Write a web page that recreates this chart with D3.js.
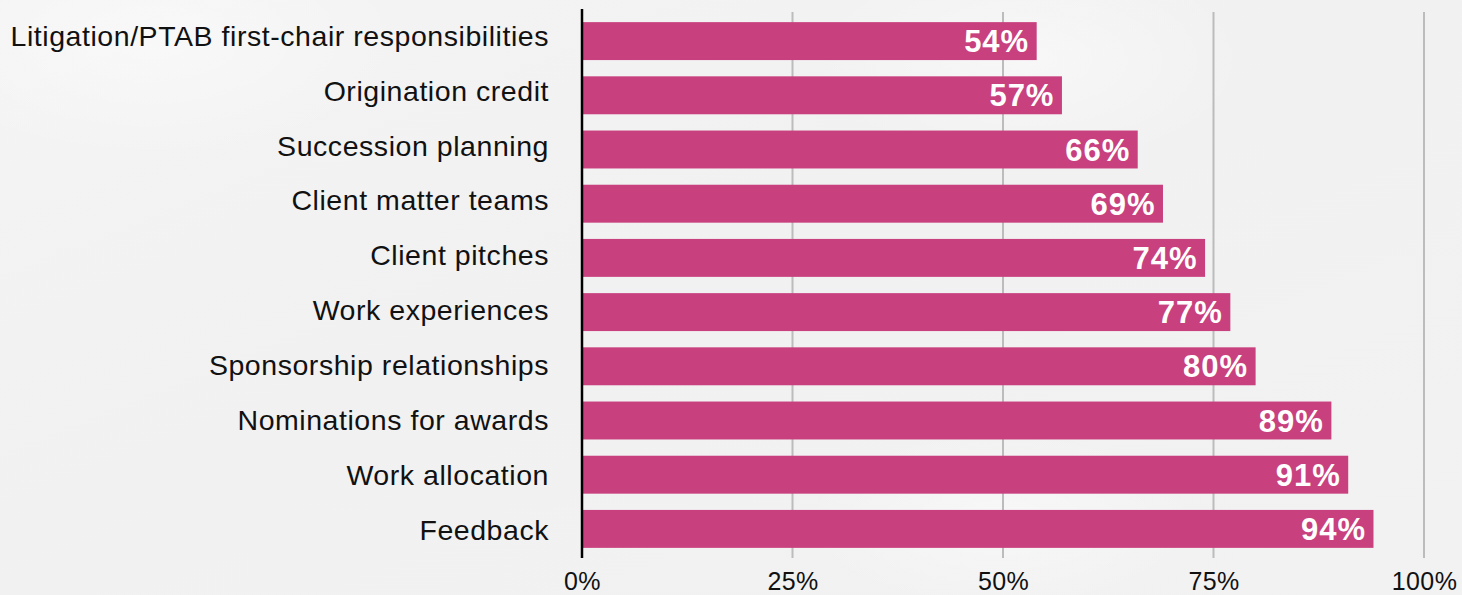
<!DOCTYPE html>
<html>
<head>
<meta charset="utf-8">
<script src="https://cdn.jsdelivr.net/npm/d3@7"></script>
<style>
  html, body { margin: 0; padding: 0; background: #f2f2f3; }
  svg { display: block; }
</style>
</head>
<body>
<svg id="chart" width="1462" height="595"></svg>
<script>
// Share of respondents by practice area
const categories = [
  "Litigation/PTAB first-chair responsibilities",
  "Origination credit",
  "Succession planning",
  "Client matter teams",
  "Client pitches",
  "Work experiences",
  "Sponsorship relationships",
  "Nominations for awards",
  "Work allocation",
  "Feedback"
];
const values = [54, 57, 66, 69, 74, 77, 80, 89, 91, 94];
const tickValues = [0, 25, 50, 75, 100];
const tickLabels = ["0%", "25%", "50%", "75%", "100%"];

const W = 1462, H = 595;
const FONT = "'Liberation Sans', Arial, Helvetica, sans-serif";
const svg = d3.select("#chart");

// soft background sheen
const defs = svg.append("defs");
const bg = defs.append("linearGradient").attr("id", "bg")
  .attr("x1", "0%").attr("y1", "0%").attr("x2", "100%").attr("y2", "100%");
bg.append("stop").attr("offset", "0%").attr("stop-color", "#f4f4f5");
bg.append("stop").attr("offset", "45%").attr("stop-color", "#f1f1f2");
bg.append("stop").attr("offset", "100%").attr("stop-color", "#f2f2f3");
const glow = defs.append("radialGradient").attr("id", "glow");
glow.append("stop").attr("offset", "0%").attr("stop-color", "#ffffff").attr("stop-opacity", 0.45);
glow.append("stop").attr("offset", "100%").attr("stop-color", "#ffffff").attr("stop-opacity", 0);

svg.append("rect").attr("width", W).attr("height", H).attr("fill", "url(#bg)");
svg.append("ellipse").attr("cx", 150).attr("cy", 40).attr("rx", 260).attr("ry", 120).attr("fill", "url(#glow)");
svg.append("ellipse").attr("cx", 1030).attr("cy", 60).attr("rx", 220).attr("ry", 110).attr("fill", "url(#glow)");
svg.append("ellipse").attr("cx", 1000).attr("cy", 520).attr("rx", 200).attr("ry", 90).attr("fill", "url(#glow)");

const x = d3.scaleLinear().domain([0, 100]).range([582, 1424]);
const y = d3.scaleBand().domain(categories).range([14, 556])
  .paddingInner(0.3).paddingOuter(0.15);
const labelY = d3.scalePoint().domain(categories).range([35.5, 529.5]);

// vertical gridlines
svg.append("g").selectAll("line")
  .data(tickValues.filter(d => d > 0))
  .join("line")
  .attr("x1", d => x(d)).attr("x2", d => x(d))
  .attr("y1", 12).attr("y2", 558)
  .attr("stroke", "#bcbcbc").attr("stroke-width", 2);

// bars
svg.append("g").selectAll("rect")
  .data(values)
  .join("rect")
  .attr("x", x(0))
  .attr("y", (d, i) => y(categories[i]))
  .attr("width", d => x(d) - x(0))
  .attr("height", y.bandwidth())
  .attr("fill", "#c8407e");

// value labels
svg.append("g").selectAll("text")
  .data(values)
  .join("text")
  .attr("x", d => x(d) - 7.5)
  .attr("y", (d, i) => y(categories[i]) + y.bandwidth() / 2)
  .attr("dy", "0.36em")
  .attr("text-anchor", "end")
  .attr("fill", "#ffffff")
  .attr("font-family", FONT)
  .attr("font-weight", "bold")
  .attr("font-size", 31)
  .attr("letter-spacing", 1)
  .text(d => d + "%");

// category labels
svg.append("g").selectAll("text")
  .data(categories)
  .join("text")
  .attr("x", 549)
  .attr("y", d => labelY(d))
  .attr("dy", "0.36em")
  .attr("text-anchor", "end")
  .attr("fill", "#111111")
  .attr("font-family", FONT)
  .attr("font-size", 28.5)
  .attr("letter-spacing", 0.55)
  .text(d => d);

// baseline axis
svg.append("line")
  .attr("x1", x(0)).attr("x2", x(0))
  .attr("y1", 9).attr("y2", 558)
  .attr("stroke", "#000").attr("stroke-width", 2.5);

// x axis tick labels
const xAxis = d3.axisBottom(x)
  .tickValues(tickValues)
  .tickFormat((d, i) => tickLabels[i])
  .tickSize(0)
  .tickPadding(0);
const ax = svg.append("g").attr("transform", "translate(0,589.5)").call(xAxis);
ax.select(".domain").remove();
ax.selectAll("text")
  .attr("dy", "0")
  .attr("fill", "#111111")
  .attr("font-family", FONT)
  .attr("font-size", 25)
  .attr("letter-spacing", 0.4);
</script>
</body>
</html>
